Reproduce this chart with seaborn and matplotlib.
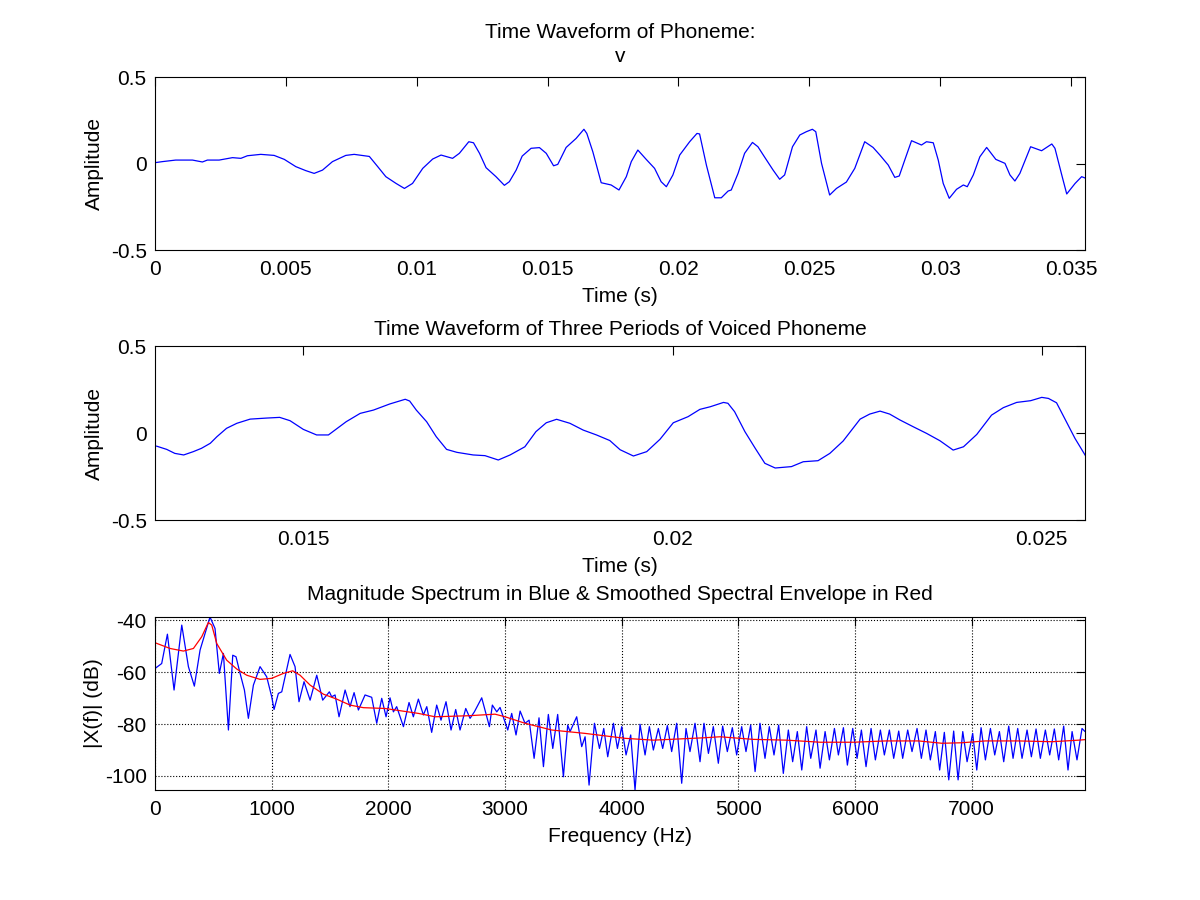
import numpy as np
import pandas as pd
import matplotlib
matplotlib.use("Agg")
import matplotlib.pyplot as plt
import seaborn as sns
from matplotlib.ticker import FormatStrFormatter

# ---- whole phoneme waveform (time in ms, amplitude) ----
wave_ms = [
    0.0, 0.28, 0.79, 1.43, 1.81, 2.00, 2.45, 2.96, 3.28, 3.53, 4.04, 4.55, 4.94,
    5.38, 5.76, 6.08, 6.40, 6.78, 7.29, 7.61, 8.19, 8.51, 8.82, 9.21, 9.53, 9.84,
    10.23, 10.61, 10.93, 11.37, 11.63, 11.99, 12.17, 12.40, 12.65, 13.03, 13.35,
    13.54, 13.80, 14.03, 14.37, 14.69, 14.95, 15.23, 15.39, 15.71, 16.09, 16.39,
    16.50, 16.73, 17.05, 17.43, 17.73, 18.01, 18.20, 18.45, 18.77, 19.09, 19.34,
    19.54, 19.79, 20.05, 20.43, 20.71, 20.81, 21.07, 21.39, 21.64, 21.90, 22.02,
    22.28, 22.53, 22.83, 23.04, 23.30, 23.62, 23.87, 24.06, 24.36, 24.64, 24.89,
    25.12, 25.25, 25.47, 25.78, 26.04, 26.42, 26.74, 27.12, 27.44, 27.70, 28.02,
    28.27, 28.44, 28.65, 28.91, 29.29, 29.48, 29.74, 29.93, 30.12, 30.35, 30.63,
    30.89, 31.04, 31.27, 31.52, 31.78, 32.13, 32.48, 32.67, 32.86, 33.05, 33.46,
    33.88, 34.27, 34.39, 34.65, 34.84, 35.16, 35.41, 35.58,
]
wave_amp = [
    0.005, 0.011, 0.020, 0.020, 0.009, 0.020, 0.020, 0.034, 0.030, 0.045, 0.053,
    0.047, 0.024, -0.018, -0.041, -0.057, -0.038, 0.011, 0.047, 0.053, 0.041,
    -0.018, -0.076, -0.115, -0.144, -0.115, -0.028, 0.026, 0.049, 0.030, 0.059,
    0.126, 0.120, 0.059, -0.024, -0.076, -0.126, -0.105, -0.038, 0.043, 0.088,
    0.092, 0.059, -0.013, -0.005, 0.093, 0.145, 0.198, 0.174, 0.068, -0.111,
    -0.124, -0.153, -0.076, 0.011, 0.078, 0.024, -0.028, -0.105, -0.134, -0.066,
    0.049, 0.126, 0.174, 0.171, -0.009, -0.198, -0.198, -0.159, -0.153, -0.057,
    0.059, 0.122, 0.097, 0.036, -0.038, -0.091, -0.066, 0.097, 0.165, 0.184,
    0.198, 0.184, 0.001, -0.182, -0.144, -0.107, -0.028, 0.126, 0.093, 0.049,
    -0.009, -0.080, -0.072, 0.020, 0.132, 0.107, 0.126, 0.120, 0.020, -0.115,
    -0.201, -0.149, -0.124, -0.134, -0.066, 0.039, 0.093, 0.024, 0.001, -0.066,
    -0.101, -0.057, 0.097, 0.074, 0.113, 0.088, -0.066, -0.176, -0.115, -0.076,
    -0.086,
]

# ---- three periods of the voiced part (time in ms, amplitude) ----
period_ms = [
    13.01, 13.15, 13.26, 13.38, 13.51, 13.62, 13.74, 13.83, 13.96, 14.10, 14.28,
    14.50, 14.68, 14.82, 15.00, 15.18, 15.34, 15.58, 15.77, 15.95, 16.17, 16.38,
    16.44, 16.53, 16.67, 16.80, 16.94, 17.08, 17.30, 17.46, 17.64, 17.80, 18.00,
    18.15, 18.29, 18.43, 18.61, 18.79, 18.97, 19.15, 19.29, 19.47, 19.65, 19.83,
    20.01, 20.21, 20.37, 20.51, 20.69, 20.75, 20.84, 20.98, 21.12, 21.25, 21.39,
    21.61, 21.77, 21.97, 22.13, 22.31, 22.54, 22.67, 22.81, 22.94, 23.08, 23.26,
    23.44, 23.62, 23.80, 23.94, 24.12, 24.32, 24.48, 24.66, 24.85, 25.00, 25.09,
    25.20, 25.31, 25.45, 25.60,
]
period_amp = [
    -0.075, -0.094, -0.117, -0.126, -0.107, -0.088, -0.059, -0.021, 0.027, 0.056,
    0.080, 0.086, 0.090, 0.071, 0.021, -0.011, -0.011, 0.065, 0.113, 0.132,
    0.167, 0.194, 0.184, 0.132, 0.065, -0.021, -0.094, -0.111, -0.126, -0.130,
    -0.155, -0.126, -0.079, 0.008, 0.059, 0.079, 0.056, 0.017, -0.011, -0.043,
    -0.096, -0.132, -0.107, -0.036, 0.059, 0.094, 0.136, 0.151, 0.176, 0.171,
    0.123, 0.008, -0.088, -0.174, -0.201, -0.193, -0.165, -0.159, -0.117, -0.046,
    0.080, 0.109, 0.126, 0.109, 0.075, 0.036, -0.002, -0.044, -0.098, -0.079,
    -0.008, 0.103, 0.146, 0.176, 0.186, 0.205, 0.199, 0.174, 0.084, -0.031,
    -0.136,
]

# ---- magnitude spectrum (Hz, dB) ----
spec_hz = [
    0, 57, 106, 163, 229, 286, 337, 386, 471, 514, 551, 586, 629, 666, 694, 729,
    766, 800, 843, 900, 957, 1000, 1020, 1057, 1086, 1157, 1200, 1234, 1277,
    1329, 1386, 1437, 1494, 1514, 1543, 1577, 1629, 1671, 1706, 1743, 1800,
    1857, 1900, 1943, 1980, 2014, 2043, 2071, 2129, 2177, 2214, 2257, 2300,
    2329, 2371, 2414, 2451, 2494, 2537, 2577, 2614, 2663, 2700, 2737, 2800,
    2866, 2891, 2929, 2957, 3023, 3057, 3094, 3129, 3171, 3206, 3249, 3291,
    3329, 3371, 3409, 3451, 3500, 3537, 3557, 3614, 3657, 3686, 3720, 3766,
    3809, 3846, 3880, 3929, 3963,
    4000, 4037, 4077, 4114, 4157, 4200, 4237, 4271, 4314, 4351, 4391, 4428,
    4471, 4514, 4551, 4585, 4628, 4671, 4705, 4743, 4785, 4828, 4865, 4905,
    4948, 4985, 5028, 5065, 5105, 5143, 5185, 5228, 5265, 5305, 5345, 5385,
    5428, 5465, 5505, 5543, 5585, 5620, 5665, 5700, 5743, 5780, 5823, 5857,
    5900, 5934, 5980,
    6017, 6054, 6094, 6137, 6174, 6217, 6251, 6294, 6331, 6374, 6408, 6451,
    6488, 6531, 6568, 6608, 6645, 6688, 6725, 6765, 6803, 6845, 6883, 6923,
    6960, 7008, 7043, 7080, 7117, 7160, 7197, 7237, 7274, 7317, 7354, 7394,
    7431, 7474, 7511, 7551, 7588, 7631, 7668, 7708, 7745, 7788, 7825, 7860,
    7902, 7945, 7971,
]
spec_db = [
    -58.6, -56.7, -45.4, -66.9, -41.9, -57.9, -65.4, -51.5, -38.8, -43.2, -60.5,
    -52.8, -82.3, -53.5, -54.1, -60.5, -66.9, -77.8, -65.0, -57.9, -61.8, -69.5,
    -74.4, -68.2, -67.6, -53.2, -57.9, -71.4, -63.7, -70.8, -61.2, -70.8, -67.6,
    -69.5, -68.8, -77.2, -66.9, -73.3, -67.9, -74.6, -68.8, -69.7, -79.7, -70.1,
    -77.2, -69.9, -75.3, -73.3, -81.0, -71.7, -77.2, -70.4, -76.5, -73.3, -83.2,
    -72.7, -78.5, -71.4, -82.3, -74.4, -82.3, -74.0, -77.8, -75.3, -69.9, -81.0,
    -72.7, -75.3, -73.6, -82.3, -75.9, -84.2, -75.0, -79.7, -78.5, -93.2, -77.6,
    -96.4, -76.3, -89.4, -76.3, -100.3, -80.4, -82.9, -77.2, -88.7, -84.9,
    -103.5, -79.7, -89.4, -81.7, -92.6, -79.7, -89.4,
    -81.0, -91.9, -84.2, -105.4, -80.1, -91.9, -81.0, -90.0, -81.7, -89.4, -80.6,
    -90.6, -79.7, -102.8, -81.7, -90.6, -79.7, -94.5, -79.7, -91.3, -81.0, -95.1,
    -80.8, -90.6, -81.4, -91.9, -81.0, -90.6, -80.4, -98.3, -79.7, -93.2, -81.0,
    -91.9, -80.4, -99.0, -82.3, -94.5, -82.9, -97.7, -81.0, -93.2, -82.3, -97.0,
    -82.9, -93.8, -81.7, -91.9, -81.4, -95.8, -81.7,
    -93.2, -82.3, -96.4, -81.7, -93.8, -82.3, -91.9, -82.3, -93.2, -82.7, -93.2,
    -82.3, -90.6, -81.7, -93.2, -82.3, -93.8, -82.9, -97.7, -83.2, -101.5, -82.7,
    -101.5, -82.9, -94.5, -83.6, -97.7, -81.4, -93.8, -81.7, -91.9, -82.9, -94.5,
    -80.8, -93.2, -81.7, -93.2, -82.3, -92.6, -81.9, -93.2, -82.3, -91.9, -81.9,
    -93.8, -80.8, -97.7, -82.9, -93.8, -81.7, -82.9,
]

# ---- smoothed spectral envelope (Hz, dB) ----
env_hz = [
    0, 129, 243, 329, 400, 457, 486, 529, 614, 700, 786, 900, 1000, 1100, 1180,
    1243, 1329, 1443, 1557, 1671, 1786, 1971, 2257, 2400, 2685, 2914, 3000, 3171,
    3400, 3686, 4029, 4271, 4700, 4843, 5128, 5414, 5700, 5985, 6260, 6545, 6745,
    6917, 7117, 7403, 7688, 7917, 7971,
]
env_db = [
    -48.7, -50.9, -51.9, -50.9, -46.4, -40.9, -41.9, -49.0, -55.4, -58.8, -61.2,
    -62.8, -62.4, -60.5, -59.5, -61.2, -65.0, -68.5, -70.4, -72.7, -73.7, -74.0,
    -75.9, -77.2, -76.8, -76.2, -77.2, -79.7, -82.3, -83.6, -85.5, -86.2, -85.3,
    -84.9, -85.9, -86.2, -87.0, -87.0, -86.5, -86.5, -87.4, -87.2, -86.5, -86.5,
    -86.8, -86.2, -86.0,
]

sns.set_theme(style="white")
plt.rcParams["font.family"] = ["Liberation Sans", "DejaVu Sans"]
plt.rcParams["axes.unicode_minus"] = False
plt.rcParams["text.color"] = "black"
plt.rcParams["axes.labelcolor"] = "black"
FS = 15

wave_df = pd.DataFrame({"t": np.array(wave_ms) / 1000.0, "amp": wave_amp})
period_df = pd.DataFrame({"t": np.array(period_ms) / 1000.0, "amp": period_amp})
spec_df = pd.DataFrame({"f": spec_hz, "db": spec_db})
env_df = pd.DataFrame({"f": env_hz, "db": env_db})


def style_axis(ax):
    for sp in ax.spines.values():
        sp.set_color("black")
        sp.set_linewidth(0.8)
    ax.tick_params(direction="in", top=True, right=True, length=6.5, width=0.8,
                   colors="black", labelcolor="black", labelsize=FS)
    ax.tick_params(axis="x", pad=7)
    ax.tick_params(axis="y", pad=6)


fig = plt.figure(figsize=(12, 9), dpi=100)
ax1 = fig.add_axes([0.1292, 0.7222, 0.775, 0.1922])
ax2 = fig.add_axes([0.1292, 0.4222, 0.775, 0.1933])
ax3 = fig.add_axes([0.1292, 0.1222, 0.775, 0.1922])

# top: whole phoneme
sns.lineplot(data=wave_df, x="t", y="amp", ax=ax1, color="#0000ff",
             linewidth=0.9, estimator=None, sort=False)
ax1.set_xlim(0, 0.03554)
ax1.set_ylim(-0.5, 0.5)
ax1.set_xticks([0, 0.005, 0.01, 0.015, 0.02, 0.025, 0.03, 0.035])
ax1.set_yticks([-0.5, 0, 0.5])
ax1.xaxis.set_major_formatter(FormatStrFormatter("%g"))
ax1.yaxis.set_major_formatter(FormatStrFormatter("%g"))
ax1.set_title("Time Waveform of Phoneme:\nv", fontsize=FS, pad=11, linespacing=1.3)
ax1.set_xlabel("Time (s)", fontsize=FS, labelpad=6)
ax1.set_ylabel("Amplitude", fontsize=FS, labelpad=5)
style_axis(ax1)

# middle: three periods
sns.lineplot(data=period_df, x="t", y="amp", ax=ax2, color="#0000ff",
             linewidth=0.9, estimator=None, sort=False)
ax2.set_xlim(0.012992, 0.025586)
ax2.set_ylim(-0.5, 0.5)
ax2.set_xticks([0.015, 0.02, 0.025])
ax2.set_yticks([-0.5, 0, 0.5])
ax2.xaxis.set_major_formatter(FormatStrFormatter("%g"))
ax2.yaxis.set_major_formatter(FormatStrFormatter("%g"))
ax2.set_title("Time Waveform of Three Periods of Voiced Phoneme", fontsize=FS, pad=8)
ax2.set_xlabel("Time (s)", fontsize=FS, labelpad=6)
ax2.set_ylabel("Amplitude", fontsize=FS, labelpad=5)
style_axis(ax2)

# bottom: spectrum + envelope
sns.lineplot(data=spec_df, x="f", y="db", ax=ax3, color="#0000ff",
             linewidth=0.9, estimator=None, sort=False)
sns.lineplot(data=env_df, x="f", y="db", ax=ax3, color="#ff0000",
             linewidth=0.9, estimator=None, sort=False)
ax3.set_xlim(0, max(spec_hz))
ax3.set_ylim(min(spec_db), max(spec_db))
ax3.set_xticks([0, 1000, 2000, 3000, 4000, 5000, 6000, 7000])
ax3.set_yticks([-100, -80, -60, -40])
ax3.grid(True, linestyle=":", color="black", linewidth=0.8)
ax3.set_title("Magnitude Spectrum in Blue & Smoothed Spectral Envelope in Red",
              fontsize=FS, pad=12)
ax3.set_xlabel("Frequency (Hz)", fontsize=FS, labelpad=6)
ax3.set_ylabel("|X(f)| (dB)", fontsize=FS, labelpad=1)
style_axis(ax3)

fig.savefig("out.png", dpi=100)
